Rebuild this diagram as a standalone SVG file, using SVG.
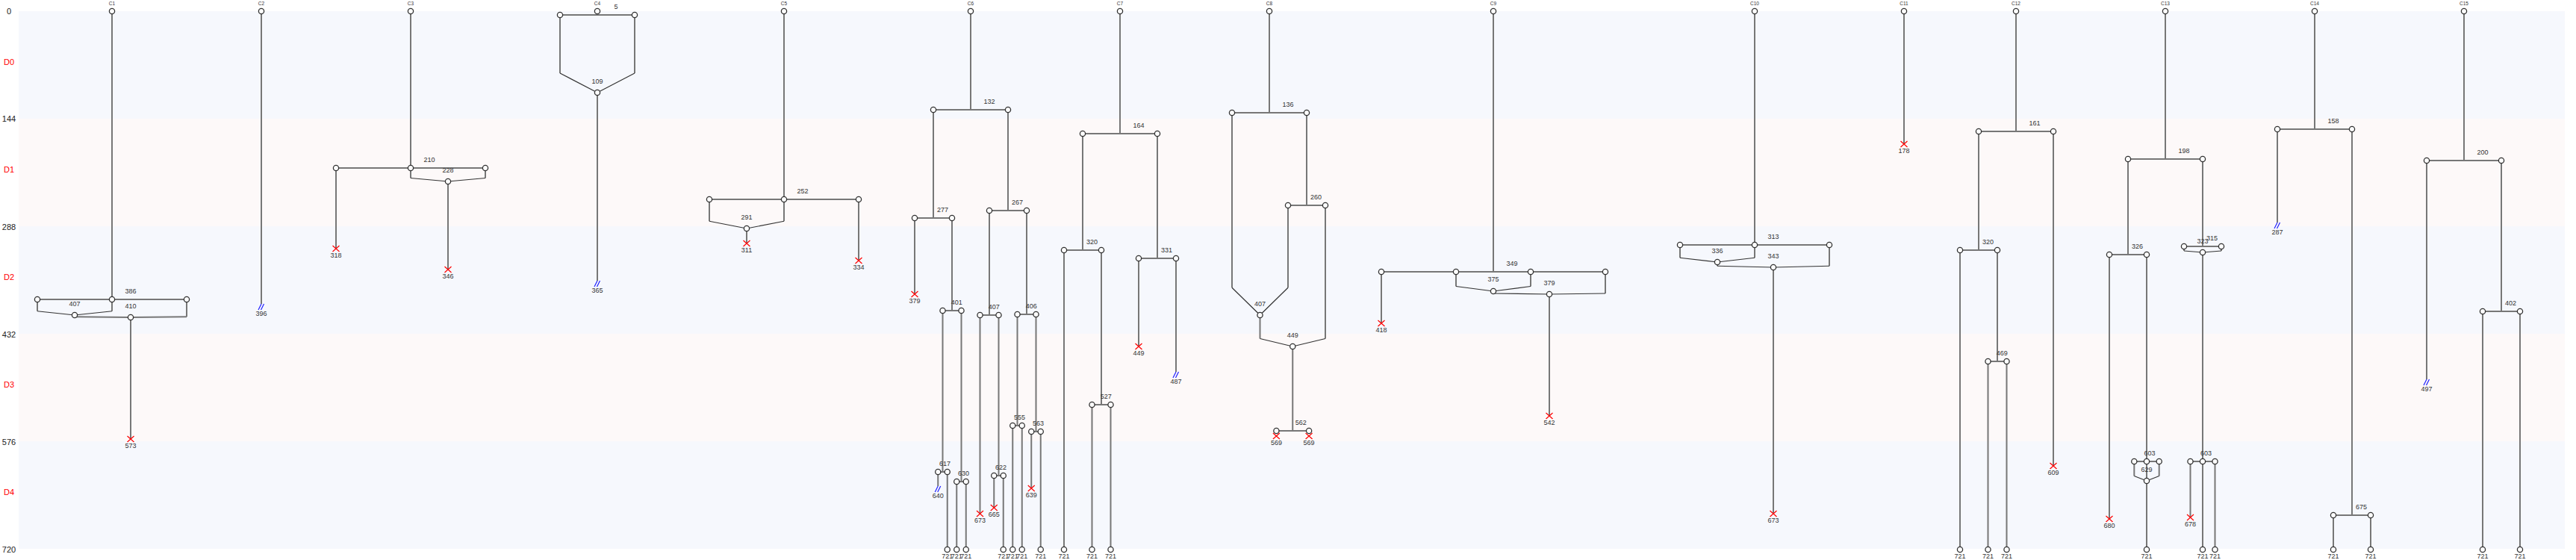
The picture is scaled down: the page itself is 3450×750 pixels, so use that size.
<svg xmlns="http://www.w3.org/2000/svg" xmlns:xlink="http://www.w3.org/1999/xlink" width="3450" height="750" viewBox="0 0 3450 750">
<style>
.bg{fill:#ffffff}
.ba{fill:#f6f8fd}
.bb{fill:#fdf9f9}
.e{stroke:#777777;stroke-width:2;fill:none}
.m{stroke:#333333;stroke-width:1.2;fill:none}
circle{fill:#ffffff;stroke:#333333;stroke-width:1.3}
.t{font-family:"Liberation Sans",Arial,sans-serif;font-size:9px;fill:#333333;text-anchor:middle}
.c{font-family:"Liberation Sans",Arial,sans-serif;font-size:6.5px;fill:#333333;text-anchor:middle}
.ax{font-family:"Liberation Sans",Arial,sans-serif;font-size:11px;fill:#222222;text-anchor:middle}
.d{font-family:"Liberation Sans",Arial,sans-serif;font-size:11px;fill:#ff0000;text-anchor:middle}
</style>
<defs>
<path id="xm" d="M-4.5,-4L4.5,4M-4.5,4L4.5,-4" stroke="#ff0000" stroke-width="1.2" fill="none"/>
<path id="bm" d="M-4,4L0,-4M-0.5,4L3.5,-4" stroke="#2222ff" stroke-width="1.2" fill="none"/>
</defs>
<rect class="bg" x="0" y="0" width="3450" height="750"/>
<g id="bands">
<rect class="ba" x="25" y="15" width="3410" height="144"/>
<rect class="bb" x="25" y="159" width="3410" height="144"/>
<rect class="ba" x="25" y="303" width="3410" height="144"/>
<rect class="bb" x="25" y="447" width="3410" height="144"/>
<rect class="ba" x="25" y="591" width="3410" height="144"/>
</g>
<g id="axis">
<text class="ax" x="12" y="18.9">0</text>
<text class="d" x="12" y="87.2">D0</text>
<text class="ax" x="12" y="163.4">144</text>
<text class="d" x="12" y="231">D1</text>
<text class="ax" x="12" y="307.5">288</text>
<text class="d" x="12" y="374.7">D2</text>
<text class="ax" x="12" y="451.5">432</text>
<text class="d" x="12" y="519">D3</text>
<text class="ax" x="12" y="595.8">576</text>
<text class="d" x="12" y="663.2">D4</text>
<text class="ax" x="12" y="739.8">720</text>
</g>
<g id="connectors">
<path class="e" d="M150,15V401M50,401H250M50,401V416.75M150,401V416.75M100,422V424.25M250,401V424.25M175,425V588"/>
<path class="m" d="M50,416.75L100,422M150,416.75L100,422"/>
<path class="e" d="M100,424.25L175,425M250,424.25L175,425"/>
<path class="e" d="M350,15V407"/>
<path class="e" d="M550,15V225M450,225H650M450,225V333M550,225V238.5M650,225V238.5M600,243V361"/>
<path class="m" d="M550,238.5L600,243M650,238.5L600,243"/>
<path class="e" d="M750,20H850M750,20V98M850,20V98M800,124V376"/>
<path class="m" d="M750,98L800,124M850,98L800,124"/>
<path class="e" d="M1050,15V267M950,267H1150M950,267V296.25M1050,267V296.25M1000,306V326M1150,267V349"/>
<path class="m" d="M950,296.25L1000,306M1050,296.25L1000,306"/>
<path class="e" d="M1300,15V147M1250,147H1350M1250,147V292M1225,292H1275M1225,292V394M1275,292V416M1262.5,416H1287.5M1262.5,416V632M1256.25,632H1268.75M1256.25,632V651M1268.75,632V736M1287.5,416V645M1281.25,645H1293.75M1281.25,645V736M1293.75,645V736"/>
<path class="e" d="M1350,147V282M1325,282H1375M1325,282V422M1312.5,422H1337.5M1312.5,422V688M1337.5,422V637M1331.25,637H1343.75M1331.25,637V680M1343.75,637V736M1375,282V421M1362.5,421H1387.5M1362.5,421V570M1356.25,570H1368.75M1356.25,570V736M1368.75,570V736M1387.5,421V578M1381.25,578H1393.75M1381.25,578V654M1393.75,578V736"/>
<path class="e" d="M1500,15V179M1450,179H1550M1450,179V335M1425,335H1475M1425,335V736M1475,335V542M1462.5,542H1487.5M1462.5,542V736M1487.5,542V736M1550,179V346M1525,346H1575M1525,346V464M1575,346V498"/>
<path class="e" d="M1700,15V151M1650,151H1750M1750,151V275M1725,275H1775M1650,151V385.25M1725,275V385.25M1687.5,422V453.5M1775,275V453.5M1731.25,464V577M1709.4,577H1753.1"/>
<path class="m" d="M1650,385.25L1687.5,422M1725,385.25L1687.5,422M1687.5,453.5L1731.25,464M1775,453.5L1731.25,464"/>
<path class="e" d="M2000,15V364M1850,364H2150M1850,364V433M1950,364V383.5M2050,364V383.5M2000,390V393M2150,364V393M2075,394V557"/>
<path class="m" d="M1950,383.5L2000,390M2050,383.5L2000,390M2000,393L2075,394M2150,393L2075,394"/>
<path class="e" d="M2350,15V328M2250,328H2450M2250,328V345.25M2350,328V345.25M2300,351V356.25M2450,328V356.25M2375,358V688"/>
<path class="m" d="M2250,345.25L2300,351M2350,345.25L2300,351M2300,356.25L2375,358M2450,356.25L2375,358"/>
<path class="e" d="M2550,15V193"/>
<path class="e" d="M2700,15V176M2650,176H2750M2650,176V335M2625,335H2675M2625,335V736M2675,335V484M2662.5,484H2687.5M2662.5,484V736M2687.5,484V736M2750,176V624"/>
<path class="e" d="M2900,15V213M2850,213H2950M2850,213V341M2825,341H2875M2825,341V695M2875,341V736M2858.3,618H2891.7M2858.3,618V637.5M2891.7,618V637.5"/>
<path class="m" d="M2858.3,637.5L2875,644M2891.7,637.5L2875,644"/>
<path class="e" d="M2950,213V330M2925,330H2975M2925,330V336M2975,330V336M2950,338V618M2933.5,618H2966.5M2933.5,618V693M2950,618V736M2966.5,618V736"/>
<path class="m" d="M2925,336L2950,338M2975,336L2950,338"/>
<path class="e" d="M3100,15V173M3050,173H3150M3050,173V298M3150,173V690M3125,690H3175M3125,690V736M3175,690V736"/>
<path class="e" d="M3300,15V215M3250,215H3350M3250,215V508M3350,215V417M3325,417H3375M3325,417V736M3375,417V736"/>
</g>
<g id="C1"><circle cx="150" cy="15" r="3.6"/><text class="c" x="150" y="6.8">C1</text></g>
<g id="C1-386"><circle cx="50" cy="401" r="3.6"/><circle cx="150" cy="401" r="3.6"/><circle cx="250" cy="401" r="3.6"/><text class="t" x="175" y="392.5">386</text></g>
<g id="C1-407"><circle cx="100" cy="422" r="3.6"/><text class="t" x="100" y="409.5">407</text></g>
<g id="C1-410"><circle cx="175" cy="425" r="3.6"/><text class="t" x="175" y="412.5">410</text></g>
<g id="C1-573"><use xlink:href="#xm" x="175" y="588"/><text class="t" x="175" y="599.7">573</text></g>
<g id="C2"><circle cx="350" cy="15" r="3.6"/><text class="c" x="350" y="6.8">C2</text></g>
<g id="C2-396"><use xlink:href="#bm" x="350" y="411"/><text class="t" x="350" y="422.5">396</text></g>
<g id="C3"><circle cx="550" cy="15" r="3.6"/><text class="c" x="550" y="6.8">C3</text></g>
<g id="C3-210"><circle cx="450" cy="225" r="3.6"/><circle cx="550" cy="225" r="3.6"/><circle cx="650" cy="225" r="3.6"/><text class="t" x="575" y="216.5">210</text></g>
<g id="C3-318"><use xlink:href="#xm" x="450" y="333"/><text class="t" x="450" y="344.9">318</text></g>
<g id="C3-228"><circle cx="600" cy="243" r="3.6"/><text class="t" x="600" y="230.9">228</text></g>
<g id="C3-346"><use xlink:href="#xm" x="600" y="361"/><text class="t" x="600" y="372.5">346</text></g>
<g id="C4-5"><circle cx="750" cy="20" r="3.6"/><circle cx="850" cy="20" r="3.6"/><text class="t" x="825" y="11.9">5</text></g>
<g id="C4"><circle cx="800" cy="15" r="3.6"/><text class="c" x="800" y="6.8">C4</text></g>
<g id="C4-109"><circle cx="800" cy="124" r="3.6"/><text class="t" x="800" y="111.5">109</text></g>
<g id="C4-365"><use xlink:href="#bm" x="800" y="380"/><text class="t" x="800" y="391.5">365</text></g>
<g id="C5"><circle cx="1050" cy="15" r="3.6"/><text class="c" x="1050" y="6.8">C5</text></g>
<g id="C5-252"><circle cx="950" cy="267" r="3.6"/><circle cx="1050" cy="267" r="3.6"/><circle cx="1150" cy="267" r="3.6"/><text class="t" x="1075" y="258.9">252</text></g>
<g id="C5-291"><circle cx="1000" cy="306" r="3.6"/><text class="t" x="1000" y="293.9">291</text></g>
<g id="C5-311"><use xlink:href="#xm" x="1000" y="326"/><text class="t" x="1000" y="337.5">311</text></g>
<g id="C5-334"><use xlink:href="#xm" x="1150" y="349"/><text class="t" x="1150" y="360.5">334</text></g>
<g id="C6"><circle cx="1300" cy="15" r="3.6"/><text class="c" x="1300" y="6.8">C6</text></g>
<g id="C6-132"><circle cx="1250" cy="147" r="3.6"/><circle cx="1350" cy="147" r="3.6"/><text class="t" x="1325" y="138.5">132</text></g>
<g id="C6-277"><circle cx="1225" cy="292" r="3.6"/><circle cx="1275" cy="292" r="3.6"/><text class="t" x="1262.5" y="283.9">277</text></g>
<g id="C6-379"><use xlink:href="#xm" x="1225" y="394"/><text class="t" x="1225" y="405.5">379</text></g>
<g id="C6-401"><circle cx="1262.5" cy="416" r="3.6"/><circle cx="1287.5" cy="416" r="3.6"/><text class="t" x="1281.25" y="407.9">401</text></g>
<g id="C6-617"><circle cx="1256.25" cy="632" r="3.6"/><circle cx="1268.75" cy="632" r="3.6"/><text class="t" x="1265.6" y="623.9">617</text></g>
<g id="C6-640"><use xlink:href="#bm" x="1256.25" y="655"/><text class="t" x="1256.25" y="666.5">640</text></g>
<g id="C6-630"><circle cx="1281.25" cy="645" r="3.6"/><circle cx="1293.75" cy="645" r="3.6"/><text class="t" x="1290.6" y="636.9">630</text></g>
<g id="C6-267"><circle cx="1325" cy="282" r="3.6"/><circle cx="1375" cy="282" r="3.6"/><text class="t" x="1362.5" y="273.9">267</text></g>
<g id="C6-407"><circle cx="1312.5" cy="422" r="3.6"/><circle cx="1337.5" cy="422" r="3.6"/><text class="t" x="1331.25" y="413.5">407</text></g>
<g id="C6-673"><use xlink:href="#xm" x="1312.5" y="688"/><text class="t" x="1312.5" y="699.7">673</text></g>
<g id="C6-622"><circle cx="1331.25" cy="637" r="3.6"/><circle cx="1343.75" cy="637" r="3.6"/><text class="t" x="1340.6" y="628.5">622</text></g>
<g id="C6-665"><use xlink:href="#xm" x="1331.25" y="680"/><text class="t" x="1331.25" y="691.7">665</text></g>
<g id="C6-406"><circle cx="1362.5" cy="421" r="3.6"/><circle cx="1387.5" cy="421" r="3.6"/><text class="t" x="1381.25" y="412.5">406</text></g>
<g id="C6-555"><circle cx="1356.25" cy="570" r="3.6"/><circle cx="1368.75" cy="570" r="3.6"/><text class="t" x="1365.6" y="561.9">555</text></g>
<g id="C6-563"><circle cx="1381.25" cy="578" r="3.6"/><circle cx="1393.75" cy="578" r="3.6"/><text class="t" x="1390.6" y="569.9">563</text></g>
<g id="C6-639"><use xlink:href="#xm" x="1381.25" y="654"/><text class="t" x="1381.25" y="665.7">639</text></g>
<g id="C6-leaves">
<circle cx="1268.75" cy="736" r="3.6"/><text class="t" x="1268.75" y="747.5">721</text>
<circle cx="1281.25" cy="736" r="3.6"/><text class="t" x="1281.25" y="747.5">721</text>
<circle cx="1293.75" cy="736" r="3.6"/><text class="t" x="1293.75" y="747.5">721</text>
<circle cx="1343.75" cy="736" r="3.6"/><text class="t" x="1343.75" y="747.5">721</text>
<circle cx="1356.25" cy="736" r="3.6"/><text class="t" x="1356.25" y="747.5">721</text>
<circle cx="1368.75" cy="736" r="3.6"/><text class="t" x="1368.75" y="747.5">721</text>
<circle cx="1393.75" cy="736" r="3.6"/><text class="t" x="1393.75" y="747.5">721</text>
</g>
<g id="C7"><circle cx="1500" cy="15" r="3.6"/><text class="c" x="1500" y="6.8">C7</text></g>
<g id="C7-164"><circle cx="1450" cy="179" r="3.6"/><circle cx="1550" cy="179" r="3.6"/><text class="t" x="1525" y="170.9">164</text></g>
<g id="C7-320"><circle cx="1425" cy="335" r="3.6"/><circle cx="1475" cy="335" r="3.6"/><text class="t" x="1462.5" y="326.5">320</text></g>
<g id="C7-527"><circle cx="1462.5" cy="542" r="3.6"/><circle cx="1487.5" cy="542" r="3.6"/><text class="t" x="1481.25" y="533.9">527</text></g>
<g id="C7-331"><circle cx="1525" cy="346" r="3.6"/><circle cx="1575" cy="346" r="3.6"/><text class="t" x="1562.5" y="337.5">331</text></g>
<g id="C7-449"><use xlink:href="#xm" x="1525" y="464"/><text class="t" x="1525" y="475.7">449</text></g>
<g id="C7-487"><use xlink:href="#bm" x="1575" y="502"/><text class="t" x="1575" y="513.7">487</text></g>
<g id="C7-leaves">
<circle cx="1425" cy="736" r="3.6"/><text class="t" x="1425" y="747.5">721</text>
<circle cx="1462.5" cy="736" r="3.6"/><text class="t" x="1462.5" y="747.5">721</text>
<circle cx="1487.5" cy="736" r="3.6"/><text class="t" x="1487.5" y="747.5">721</text>
</g>
<g id="C8"><circle cx="1700" cy="15" r="3.6"/><text class="c" x="1700" y="6.8">C8</text></g>
<g id="C8-136"><circle cx="1650" cy="151" r="3.6"/><circle cx="1750" cy="151" r="3.6"/><text class="t" x="1725" y="142.5">136</text></g>
<g id="C8-260"><circle cx="1725" cy="275" r="3.6"/><circle cx="1775" cy="275" r="3.6"/><text class="t" x="1762.5" y="266.9">260</text></g>
<g id="C8-407"><circle cx="1687.5" cy="422" r="3.6"/><text class="t" x="1687.5" y="409.9">407</text></g>
<g id="C8-449"><circle cx="1731.25" cy="464" r="3.6"/><text class="t" x="1731.25" y="451.5">449</text></g>
<g id="C8-562"><circle cx="1709.4" cy="577" r="3.6"/><circle cx="1753.1" cy="577" r="3.6"/><text class="t" x="1742.2" y="568.9">562</text></g>
<g id="C8-569a"><use xlink:href="#xm" x="1709.4" y="584"/><text class="t" x="1709.4" y="595.5">569</text></g>
<g id="C8-569b"><use xlink:href="#xm" x="1753.1" y="584"/><text class="t" x="1753.1" y="595.5">569</text></g>
<g id="C9"><circle cx="2000" cy="15" r="3.6"/><text class="c" x="2000" y="6.8">C9</text></g>
<g id="C9-349"><circle cx="1850" cy="364" r="3.6"/><circle cx="1950" cy="364" r="3.6"/><circle cx="2050" cy="364" r="3.6"/><circle cx="2150" cy="364" r="3.6"/><text class="t" x="2025" y="355.5">349</text></g>
<g id="C9-418"><use xlink:href="#xm" x="1850" y="433"/><text class="t" x="1850" y="444.7">418</text></g>
<g id="C9-375"><circle cx="2000" cy="390" r="3.6"/><text class="t" x="2000" y="377.4">375</text></g>
<g id="C9-379"><circle cx="2075" cy="394" r="3.6"/><text class="t" x="2075" y="381.9">379</text></g>
<g id="C9-542"><use xlink:href="#xm" x="2075" y="557"/><text class="t" x="2075" y="568.7">542</text></g>
<g id="C10"><circle cx="2350" cy="15" r="3.6"/><text class="c" x="2350" y="6.8">C10</text></g>
<g id="C10-313"><circle cx="2250" cy="328" r="3.6"/><circle cx="2350" cy="328" r="3.6"/><circle cx="2450" cy="328" r="3.6"/><text class="t" x="2375" y="319.5">313</text></g>
<g id="C10-336"><circle cx="2300" cy="351" r="3.6"/><text class="t" x="2300" y="338.7">336</text></g>
<g id="C10-343"><circle cx="2375" cy="358" r="3.6"/><text class="t" x="2375" y="345.5">343</text></g>
<g id="C10-673"><use xlink:href="#xm" x="2375" y="688"/><text class="t" x="2375" y="699.7">673</text></g>
<g id="C11"><circle cx="2550" cy="15" r="3.6"/><text class="c" x="2550" y="6.8">C11</text></g>
<g id="C11-178"><use xlink:href="#xm" x="2550" y="193"/><text class="t" x="2550" y="204.9">178</text></g>
<g id="C12"><circle cx="2700" cy="15" r="3.6"/><text class="c" x="2700" y="6.8">C12</text></g>
<g id="C12-161"><circle cx="2650" cy="176" r="3.6"/><circle cx="2750" cy="176" r="3.6"/><text class="t" x="2725" y="167.5">161</text></g>
<g id="C12-320"><circle cx="2625" cy="335" r="3.6"/><circle cx="2675" cy="335" r="3.6"/><text class="t" x="2662.5" y="326.5">320</text></g>
<g id="C12-469"><circle cx="2662.5" cy="484" r="3.6"/><circle cx="2687.5" cy="484" r="3.6"/><text class="t" x="2681.25" y="475.5">469</text></g>
<g id="C12-609"><use xlink:href="#xm" x="2750" y="624"/><text class="t" x="2750" y="635.5">609</text></g>
<g id="C12-leaves">
<circle cx="2625" cy="736" r="3.6"/><text class="t" x="2625" y="747.5">721</text>
<circle cx="2662.5" cy="736" r="3.6"/><text class="t" x="2662.5" y="747.5">721</text>
<circle cx="2687.5" cy="736" r="3.6"/><text class="t" x="2687.5" y="747.5">721</text>
</g>
<g id="C13"><circle cx="2900" cy="15" r="3.6"/><text class="c" x="2900" y="6.8">C13</text></g>
<g id="C13-198"><circle cx="2850" cy="213" r="3.6"/><circle cx="2950" cy="213" r="3.6"/><text class="t" x="2925" y="204.9">198</text></g>
<g id="C13-326"><circle cx="2825" cy="341" r="3.6"/><circle cx="2875" cy="341" r="3.6"/><text class="t" x="2862.5" y="332.9">326</text></g>
<g id="C13-680"><use xlink:href="#xm" x="2825" y="695"/><text class="t" x="2825" y="706.7">680</text></g>
<g id="C13-603a"><circle cx="2858.3" cy="618" r="3.6"/><circle cx="2875" cy="618" r="3.6"/><circle cx="2891.7" cy="618" r="3.6"/><text class="t" x="2879" y="609.5">603</text></g>
<g id="C13-629"><circle cx="2875" cy="644" r="3.6"/><text class="t" x="2875" y="631.5">629</text></g>
<g id="C13-315"><circle cx="2925" cy="330" r="3.6"/><circle cx="2975" cy="330" r="3.6"/><text class="t" x="2962.5" y="321.5">315</text></g>
<g id="C13-323"><circle cx="2950" cy="338" r="3.6"/><text class="t" x="2950" y="325.9">323</text></g>
<g id="C13-603b"><circle cx="2933.5" cy="618" r="3.6"/><circle cx="2950" cy="618" r="3.6"/><circle cx="2966.5" cy="618" r="3.6"/><text class="t" x="2954.5" y="609.5">603</text></g>
<g id="C13-678"><use xlink:href="#xm" x="2933.5" y="693"/><text class="t" x="2933.5" y="704.7">678</text></g>
<g id="C13-leaves">
<circle cx="2875" cy="736" r="3.6"/><text class="t" x="2875" y="747.5">721</text>
<circle cx="2950" cy="736" r="3.6"/><text class="t" x="2950" y="747.5">721</text>
<circle cx="2966.5" cy="736" r="3.6"/><text class="t" x="2966.5" y="747.5">721</text>
</g>
<g id="C14"><circle cx="3100" cy="15" r="3.6"/><text class="c" x="3100" y="6.8">C14</text></g>
<g id="C14-158"><circle cx="3050" cy="173" r="3.6"/><circle cx="3150" cy="173" r="3.6"/><text class="t" x="3125" y="164.5">158</text></g>
<g id="C14-287"><use xlink:href="#bm" x="3050" y="302"/><text class="t" x="3050" y="313.5">287</text></g>
<g id="C14-675"><circle cx="3125" cy="690" r="3.6"/><circle cx="3175" cy="690" r="3.6"/><text class="t" x="3162.5" y="681.5">675</text></g>
<g id="C14-leaves">
<circle cx="3125" cy="736" r="3.6"/><text class="t" x="3125" y="747.5">721</text>
<circle cx="3175" cy="736" r="3.6"/><text class="t" x="3175" y="747.5">721</text>
</g>
<g id="C15"><circle cx="3300" cy="15" r="3.6"/><text class="c" x="3300" y="6.8">C15</text></g>
<g id="C15-200"><circle cx="3250" cy="215" r="3.6"/><circle cx="3350" cy="215" r="3.6"/><text class="t" x="3325" y="206.5">200</text></g>
<g id="C15-497"><use xlink:href="#bm" x="3250" y="512"/><text class="t" x="3250" y="523.5">497</text></g>
<g id="C15-402"><circle cx="3325" cy="417" r="3.6"/><circle cx="3375" cy="417" r="3.6"/><text class="t" x="3362.5" y="408.9">402</text></g>
<g id="C15-leaves">
<circle cx="3325" cy="736" r="3.6"/><text class="t" x="3325" y="747.5">721</text>
<circle cx="3375" cy="736" r="3.6"/><text class="t" x="3375" y="747.5">721</text>
</g>
</svg>
